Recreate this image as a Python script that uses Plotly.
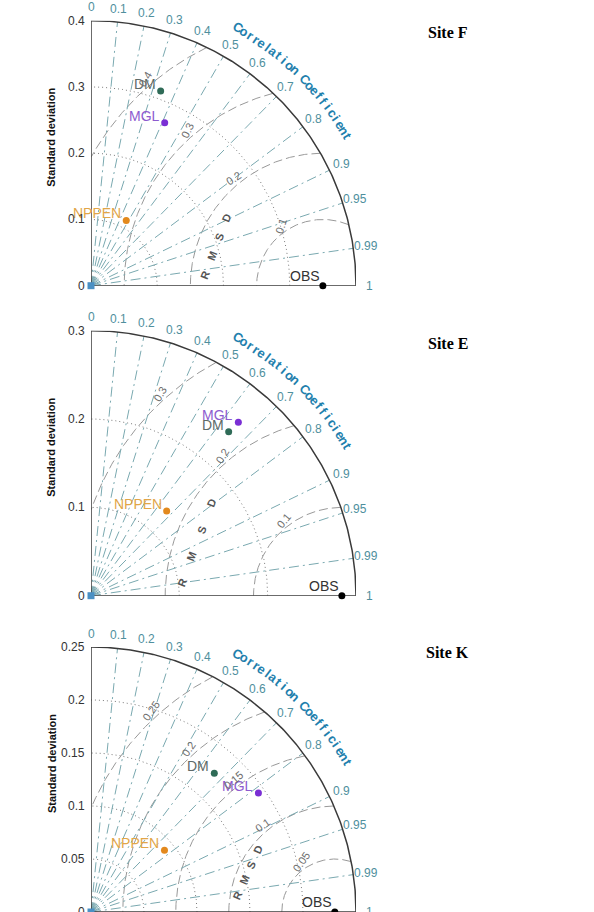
import numpy as np
import plotly.graph_objects as go

# ---------------- data ----------------
sites = ["Site F", "Site E", "Site K"]
std_max = [0.4, 0.3, 0.25]
std_ticks = [[0, 0.1, 0.2, 0.3, 0.4],
             [0, 0.1, 0.2, 0.3],
             [0, 0.05, 0.1, 0.15, 0.2, 0.25]]
std_tick_labels = [["0", "0.1", "0.2", "0.3", "0.4"],
                   ["0", "0.1", "0.2", "0.3"],
                   ["0", "0.05", "0.1", "0.15", "0.2", "0.25"]]
obs_std = [0.35, 0.284, 0.23]
models = ["DM", "MGL", "NPPEN"]
model_std = [[0.312, 0.270, 0.112],
             [0.2424, 0.2576, 0.1286],
             [0.1752, 0.1938, 0.0905]]
model_corr = [[0.337, 0.412, 0.475],
              [0.643, 0.6475, 0.666],
              [0.664, 0.815, 0.766]]
rmsd_levels = [[0.1, 0.2, 0.3, 0.4],
               [0.1, 0.2, 0.3],
               [0.05, 0.1, 0.15, 0.2, 0.25]]
rmsd_labels = [["0.1", "0.2", "0.3", "0.4"],
               ["0.1", "0.2", "0.3"],
               ["0.05", "0.1", "0.15", "0.2", "0.25"]]
corr_lines = [0.1, 0.2, 0.3, 0.4, 0.5, 0.6, 0.7, 0.8, 0.9, 0.95, 0.99]
corr_ticks = [0, 0.1, 0.2, 0.3, 0.4, 0.5, 0.6, 0.7, 0.8, 0.9, 0.95, 0.99, 1]
corr_tick_labels = ["0", "0.1", "0.2", "0.3", "0.4", "0.5", "0.6", "0.7",
                    "0.8", "0.9", "0.95", "0.99", "1"]
corr_title = "Correlation Coefficient"
rmsd_title = "RMSD"

# ---------------- style / layout ----------------
W, H = 594, 912
X0, SIDE = 91, 265
panel_top = [20.7, 330.7, 647.0]
title_y = [32, 343, 652]
model_marker_colors = ["#2f6b57", "#7a2fd4", "#e3891d"]
model_text_colors = ["#5e6a68", "#8d5bcf", "#e2a648"]
corr_color = "#7aa9b0"
corr_label_color = "#4f8f9d"
corr_title_color = "#1f80ad"
rmsd_color = "#999999"
std_arc_color = "#7a7a7a"
rmsd_lab_ang = [[125, 129.6, 131, 130.7], [128, 130.6, 132], [124, 129.6, 127.5, 131.9, 132.5]]
rmsd_lab_rot = [[-72, -32, -65, -60], [-50, -58, -60], [-55, -35, -40, -55, -55]]
rmsd_letter_ends = [((0.1721, 0.0161), (0.2048, 0.1017)),
                    ((0.1027, 0.0147), (0.1366, 0.1046)),
                    ((0.1382, 0.0161), (0.1572, 0.0588))]
rmsd_letter_rot = [-69, -69, -66]

SANS = "Liberation Sans, Arial, sans-serif"
SERIF = "Liberation Serif, Times New Roman, serif"

fig = go.Figure()
annotations = []


def add_line(xs, ys, xa, ya, color, width, dash="solid"):
    fig.add_trace(go.Scatter(x=xs, y=ys, xaxis=xa, yaxis=ya, mode="lines",
                             line=dict(color=color, width=width, dash=dash),
                             hoverinfo="skip", showlegend=False))


layout_axes = {}
for i, site in enumerate(sites):
    R = std_max[i]
    scale = SIDE / R
    xa = "x" if i == 0 else f"x{i+1}"
    ya = "y" if i == 0 else f"y{i+1}"
    top = panel_top[i]
    bottom = top + SIDE

    def P(x, y, bottom=bottom, scale=scale):
        # data -> paper (annotations are placed in paper space so they are never hidden)
        return (X0 + x * scale) / W, 1 - (bottom - y * scale) / H

    ydom = [max(0.0, 1 - bottom / H), 1 - top / H]
    xdom = [X0 / W, (X0 + SIDE) / W]
    xkey = "xaxis" if i == 0 else f"xaxis{i+1}"
    ykey = "yaxis" if i == 0 else f"yaxis{i+1}"
    layout_axes[xkey] = dict(domain=xdom, range=[0, R], visible=False, fixedrange=True, anchor=ya)
    layout_axes[ykey] = dict(domain=ydom, range=[0, R], visible=False, fixedrange=True, anchor=xa)

    th = np.linspace(0, np.pi / 2, 200)
    for s in std_ticks[i][1:]:
        if s < R - 1e-9:
            add_line(s * np.cos(th), s * np.sin(th), xa, ya, std_arc_color, 1, "1px,3px")
    obs = obs_std[i]
    ph = np.linspace(0, np.pi, 600)
    for d in rmsd_levels[i]:
        cx = obs + d * np.cos(ph)
        cy = d * np.sin(ph)
        ok = (cx >= 0) & (cx ** 2 + cy ** 2 <= R ** 2)
        add_line(np.where(ok, cx, np.nan), np.where(ok, cy, np.nan), xa, ya,
                 rmsd_color, 1, "9px,4px")
    for c in corr_lines:
        a = np.arccos(c)
        add_line([0, R * np.cos(a)], [0, R * np.sin(a)], xa, ya, corr_color, 1,
                 "10px,4px,2px,4px")
    add_line(R * np.cos(th), R * np.sin(th), xa, ya, "#3a3a3a", 1.5)
    add_line([0, 0], [0, R], xa, ya, "#3a3a3a", 1.5)
    add_line([0, R], [0, 0], xa, ya, "#3a3a3a", 1.5)

    fig.add_trace(go.Scatter(x=[0], y=[0], xaxis=xa, yaxis=ya, mode="markers",
                             marker=dict(symbol="square", size=7, color="#4a90c4"),
                             cliponaxis=False, hoverinfo="skip", showlegend=False))
    for k, m in enumerate(models):
        s = model_std[i][k]
        c = model_corr[i][k]
        mx, my = s * c, s * np.sqrt(1 - c ** 2)
        fig.add_trace(go.Scatter(x=[mx], y=[my], xaxis=xa, yaxis=ya, mode="markers",
                                 marker=dict(size=7, color=model_marker_colors[k]),
                                 cliponaxis=False, name=m, showlegend=False))
        px, py = P(mx, my)
        annotations.append(dict(x=px, y=py, xref="paper", yref="paper", text=m, showarrow=False,
                                xanchor="right", yanchor="bottom", xshift=-3, yshift=-3,
                                font=dict(family=SANS, size=14, color=model_text_colors[k])))
    fig.add_trace(go.Scatter(x=[obs], y=[0], xaxis=xa, yaxis=ya, mode="markers",
                             marker=dict(size=7, color="black"), cliponaxis=False,
                             name="OBS", showlegend=False))
    px, py = P(obs, 0)
    annotations.append(dict(x=px, y=py, xref="paper", yref="paper", text="OBS", showarrow=False,
                            xanchor="right", yanchor="bottom", xshift=-1, yshift=0,
                            font=dict(family=SANS, size=14, color="#333333")))

    for v, t in zip(std_ticks[i], std_tick_labels[i]):
        px, py = P(0, v)
        annotations.append(dict(x=px, y=py, xref="paper", yref="paper", text=t, showarrow=False,
                                xanchor="right", yanchor="middle", xshift=-4,
                                font=dict(family=SANS, size=12, color="#333333")))
    for c, t in zip(corr_ticks, corr_tick_labels):
        a = np.arccos(c)
        px, py = P(1.05 * R * np.cos(a), 1.05 * R * np.sin(a))
        annotations.append(dict(x=px, y=py, xref="paper", yref="paper", text=t, showarrow=False,
                                xanchor="center", yanchor="middle",
                                font=dict(family=SANS, size=12, color=corr_label_color)))
    n = len(corr_title)
    angs = np.linspace(60.3, 30.2, n)
    for ch, ang in zip(corr_title, angs):
        if ch == " ":
            continue
        a = np.radians(ang)
        px, py = P(1.12 * R * np.cos(a), 1.12 * R * np.sin(a))
        annotations.append(dict(x=px, y=py, xref="paper", yref="paper", text=f"<b>{ch}</b>",
                                showarrow=False, textangle=90 - ang, xanchor="center",
                                yanchor="middle",
                                font=dict(family=SANS, size=13, color=corr_title_color)))
    for d, t, ang, rot in zip(rmsd_levels[i], rmsd_labels[i], rmsd_lab_ang[i], rmsd_lab_rot[i]):
        rr = d + 7 / scale
        a = np.radians(ang)
        px, py = P(obs + rr * np.cos(a), rr * np.sin(a))
        annotations.append(dict(x=px, y=py, xref="paper", yref="paper", text=t, showarrow=False,
                                textangle=rot, xanchor="center", yanchor="middle",
                                font=dict(family=SANS, size=11, color="#6e6e6e")))
    (sx, sy), (ex, ey) = rmsd_letter_ends[i]
    for j, ch in enumerate(rmsd_title):
        f = j / (len(rmsd_title) - 1)
        px, py = P(sx + f * (ex - sx), sy + f * (ey - sy))
        annotations.append(dict(x=px, y=py, xref="paper", yref="paper", text=f"<b>{ch}</b>",
                                showarrow=False, textangle=rmsd_letter_rot[i],
                                xanchor="center", yanchor="middle",
                                font=dict(family=SANS, size=11, color="#555555")))
    yc = bottom - 0.56 * SIDE
    annotations.append(dict(x=51.5 / W, y=1 - yc / H, xref="paper", yref="paper",
                            text="<b>Standard deviation</b>", showarrow=False,
                            textangle=-90, xanchor="center", yanchor="middle",
                            font=dict(family=SANS, size=11, color="#111111")))
    annotations.append(dict(x=447.5 / W, y=1 - title_y[i] / H, xref="paper", yref="paper",
                            text=f"<b>{site}</b>", showarrow=False, xanchor="center",
                            yanchor="middle",
                            font=dict(family=SERIF, size=16, color="#000000")))

fig.update_layout(width=W, height=H, margin=dict(l=0, r=0, t=0, b=0),
                  paper_bgcolor="white", plot_bgcolor="white", showlegend=False,
                  annotations=annotations, **layout_axes)
fig.write_html("out.html")
